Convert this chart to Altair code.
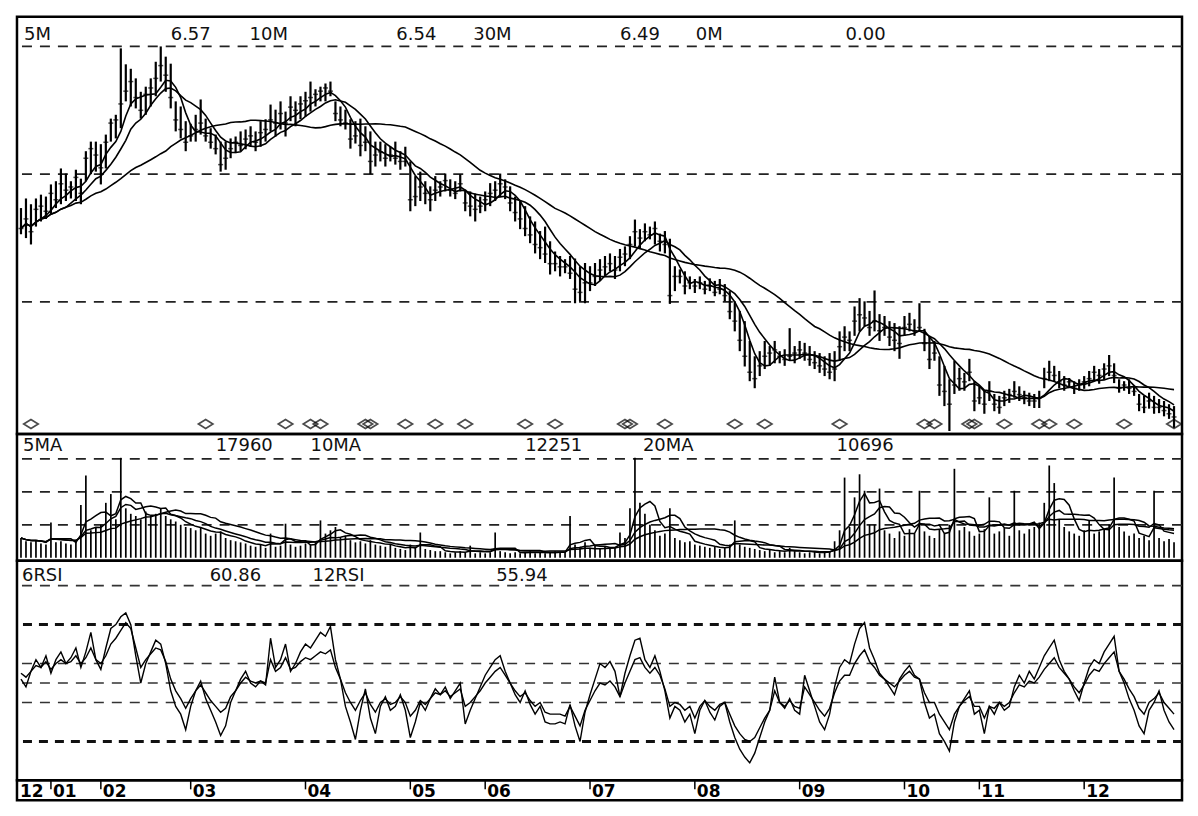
import altair as alt
import pandas as pd

# ---------------- data ----------------
HIGH = [
    9.47, 9.62, 9.53, 9.62, 9.68, 9.65, 9.84, 9.89, 10.09, 10.01,
    9.89, 10.07, 9.93, 10.36, 10.51, 10.51, 10.47, 10.62, 10.87, 10.93,
    11.97, 11.72, 11.65, 11.50, 11.29, 11.37, 11.50, 11.76, 12.00, 11.84,
    11.73, 11.14, 11.06, 10.83, 10.79, 10.93, 11.17, 10.87, 10.72, 10.62,
    10.51, 10.51, 10.56, 10.59, 10.67, 10.70, 10.75, 10.67, 10.83, 10.86,
    11.09, 11.01, 11.14, 10.98, 11.22, 11.14, 11.22, 11.29, 11.45, 11.33,
    11.37, 11.42, 11.45, 11.14, 11.06, 11.01, 10.86, 10.83, 10.87, 10.75,
    10.67, 10.51, 10.51, 10.47, 10.43, 10.51, 10.36, 10.43, 10.20, 9.97,
    10.04, 9.89, 9.81, 9.97, 9.89, 10.01, 9.92, 9.89, 10.00, 9.76,
    9.73, 9.70, 9.65, 9.73, 9.86, 9.89, 10.01, 9.92, 9.81, 9.65,
    9.58, 9.50, 9.34, 9.26, 9.11, 9.18, 8.95, 8.79, 8.72, 8.67,
    8.72, 8.68, 8.56, 8.61, 8.56, 8.61, 8.67, 8.72, 8.76, 8.72,
    8.83, 8.87, 9.03, 9.29, 9.14, 9.23, 9.18, 9.26, 9.07, 9.11,
    8.99, 8.56, 8.51, 8.48, 8.40, 8.36, 8.40, 8.33, 8.37, 8.33,
    8.36, 8.28, 8.17, 8.01, 7.86, 7.70, 7.39, 7.15, 7.23, 7.39,
    7.31, 7.39, 7.23, 7.26, 7.59, 7.31, 7.39, 7.36, 7.31, 7.23,
    7.20, 7.15, 7.20, 7.23, 7.54, 7.62, 7.54, 7.93, 8.06, 8.01,
    7.86, 8.18, 7.81, 7.78, 7.70, 7.67, 7.62, 7.78, 7.83, 7.73,
    7.98, 7.58, 7.47, 7.39, 7.15, 7.00, 6.79, 7.08, 6.97, 6.89,
    7.11, 6.76, 6.68, 6.61, 6.76, 6.56, 6.53, 6.61, 6.64, 6.76,
    6.68, 6.61, 6.58, 6.56, 6.61, 6.97, 7.08, 7.00, 6.92, 6.84,
    6.81, 6.76, 6.79, 6.84, 6.92, 7.00, 6.95, 7.04, 7.17, 7.04,
    6.79, 6.76, 6.79, 6.68, 6.56, 6.53, 6.58, 6.53, 6.48, 6.45,
    6.40, 6.37,
]
LOW = [
    9.06, 9.00, 8.90, 9.18, 9.26, 9.30, 9.37, 9.47, 9.53, 9.58,
    9.62, 9.58, 9.53, 9.89, 10.00, 10.04, 9.84, 10.09, 10.51, 10.56,
    10.72, 11.14, 11.06, 11.03, 10.87, 10.93, 11.06, 11.22, 11.45, 11.29,
    11.03, 10.67, 10.56, 10.36, 10.51, 10.51, 10.62, 10.51, 10.40, 10.31,
    10.04, 10.07, 10.25, 10.33, 10.36, 10.39, 10.43, 10.36, 10.43, 10.51,
    10.67, 10.59, 10.70, 10.59, 10.83, 10.75, 10.86, 10.90, 10.98, 11.06,
    11.14, 11.14, 11.22, 10.83, 10.75, 10.70, 10.40, 10.48, 10.28, 10.36,
    10.00, 10.12, 10.20, 10.12, 10.20, 10.15, 10.07, 10.12, 9.42, 9.50,
    9.58, 9.53, 9.42, 9.58, 9.65, 9.73, 9.65, 9.61, 9.73, 9.42,
    9.34, 9.26, 9.39, 9.42, 9.50, 9.58, 9.65, 9.61, 9.42, 9.26,
    9.14, 9.03, 8.92, 8.76, 8.67, 8.61, 8.43, 8.48, 8.40, 8.45,
    8.36, 7.98, 8.01, 7.98, 8.17, 8.25, 8.33, 8.40, 8.48, 8.36,
    8.48, 8.56, 8.67, 8.87, 8.83, 8.95, 8.98, 8.90, 8.79, 8.76,
    7.97, 8.17, 8.29, 8.12, 8.20, 8.14, 8.20, 8.12, 8.17, 8.09,
    8.12, 8.01, 7.73, 7.54, 7.23, 6.99, 6.76, 6.65, 6.84, 6.95,
    7.00, 7.04, 7.04, 7.00, 7.08, 7.04, 7.11, 7.08, 7.00, 6.95,
    6.89, 6.84, 6.79, 6.76, 7.08, 7.23, 7.23, 7.47, 7.54, 7.62,
    7.47, 7.54, 7.39, 7.47, 7.31, 7.23, 7.11, 7.47, 7.54, 7.47,
    7.54, 7.23, 6.95, 7.08, 6.53, 6.37, 5.98, 6.56, 6.61, 6.61,
    6.76, 6.29, 6.40, 6.25, 6.45, 6.29, 6.25, 6.37, 6.42, 6.50,
    6.45, 6.40, 6.37, 6.34, 6.34, 6.65, 6.76, 6.76, 6.65, 6.61,
    6.65, 6.56, 6.61, 6.64, 6.68, 6.76, 6.72, 6.79, 6.84, 6.73,
    6.58, 6.61, 6.56, 6.53, 6.29, 6.26, 6.33, 6.25, 6.26, 6.21,
    6.17, 6.03,
]
CLOSE = [
    9.15, 9.30, 9.10, 9.45, 9.50, 9.42, 9.70, 9.60, 9.85, 9.75,
    9.80, 9.95, 9.70, 10.25, 10.40, 10.30, 10.10, 10.50, 10.80, 10.85,
    11.10, 11.30, 11.45, 11.20, 11.00, 11.25, 11.35, 11.50, 11.70, 11.55,
    11.20, 10.85, 10.70, 10.50, 10.60, 10.70, 10.80, 10.60, 10.50, 10.40,
    10.15, 10.25, 10.40, 10.50, 10.45, 10.55, 10.60, 10.50, 10.65, 10.70,
    10.85, 10.80, 10.95, 10.80, 11.05, 11.00, 11.10, 11.15, 11.20, 11.25,
    11.30, 11.35, 11.30, 10.95, 10.85, 10.80, 10.55, 10.60, 10.45, 10.50,
    10.20, 10.30, 10.35, 10.25, 10.30, 10.25, 10.20, 10.20, 9.60, 9.65,
    9.80, 9.70, 9.60, 9.75, 9.80, 9.90, 9.75, 9.70, 9.85, 9.55,
    9.50, 9.45, 9.50, 9.60, 9.70, 9.75, 9.85, 9.80, 9.55, 9.40,
    9.30, 9.15, 9.05, 8.90, 8.85, 8.75, 8.60, 8.60, 8.55, 8.55,
    8.45, 8.20, 8.15, 8.30, 8.30, 8.40, 8.50, 8.55, 8.60, 8.50,
    8.70, 8.75, 8.90, 9.10, 9.00, 9.10, 9.05, 9.15, 8.95, 8.90,
    8.10, 8.40, 8.40, 8.25, 8.30, 8.25, 8.30, 8.20, 8.25, 8.15,
    8.20, 8.10, 7.85, 7.70, 7.40, 7.15, 6.90, 6.80, 7.00, 7.15,
    7.20, 7.25, 7.15, 7.10, 7.15, 7.20, 7.25, 7.20, 7.10, 7.05,
    7.00, 6.95, 6.90, 6.95, 7.30, 7.45, 7.40, 7.70, 7.80, 7.75,
    7.60, 7.70, 7.55, 7.60, 7.45, 7.40, 7.35, 7.60, 7.65, 7.55,
    7.60, 7.35, 7.10, 7.20, 6.70, 6.60, 6.40, 6.70, 6.80, 6.75,
    6.90, 6.45, 6.50, 6.40, 6.60, 6.40, 6.35, 6.50, 6.55, 6.60,
    6.55, 6.50, 6.45, 6.45, 6.50, 6.80, 6.90, 6.85, 6.75, 6.70,
    6.75, 6.65, 6.70, 6.75, 6.80, 6.90, 6.85, 6.95, 7.00, 6.85,
    6.65, 6.70, 6.65, 6.60, 6.40, 6.35, 6.45, 6.35, 6.35, 6.30,
    6.25, 6.20,
]
VOLUME_K = [
    18, 15, 14, 16, 13, 12, 32, 14, 15, 13,
    12, 16, 48, 75, 25, 28, 30, 50, 58, 35,
    91, 45, 40, 38, 35, 42, 38, 40, 45, 38,
    35, 33, 30, 28, 27, 25, 28, 22, 20, 22,
    24, 18, 16, 15, 14, 13, 11, 10, 12, 9,
    22, 10, 11, 31, 12, 10, 11, 13, 12, 14,
    34, 22, 25, 28, 18, 20, 16, 14, 15, 13,
    16, 12, 11, 10, 12, 9, 8, 7, 12, 9,
    23, 8, 7, 6, 6, 5, 4, 5, 6, 5,
    11, 4, 5, 4, 5, 23, 6, 5, 4, 5,
    4, 5, 6, 4, 5, 4, 5, 6, 5, 5,
    38, 12, 10, 14, 9, 11, 8, 10, 9, 9,
    23, 18, 45, 91, 50, 40, 30, 25, 20, 22,
    45, 18, 16, 14, 15, 12, 11, 10, 9, 10,
    8, 9, 12, 34, 12, 10, 9, 8, 7, 6,
    8, 5, 6, 5, 9, 6, 5, 4, 5, 6,
    4, 5, 6, 15, 25, 73, 28, 55, 76, 61,
    30, 30, 63, 25, 22, 18, 24, 20, 26, 22,
    61, 24, 20, 18, 26, 22, 30, 81, 25, 28,
    24, 20, 22, 26, 55, 22, 24, 27, 20, 61,
    25, 22, 26, 28, 32, 50, 84, 68, 35, 28,
    24, 22, 20, 25, 34, 22, 24, 26, 30, 73,
    28, 24, 20, 22, 18, 20, 16, 61, 18, 15,
    17, 14,
]
RSI6 = [
    52, 48, 56, 62, 58, 64, 55, 62, 66, 60,
    63, 68, 58, 66, 76, 62, 57, 68, 78, 80,
    84, 86, 80, 64, 50, 60, 66, 72, 70, 60,
    46, 38, 34, 26, 38, 46, 51, 42, 36, 30,
    23, 28, 40, 46, 52, 56, 50, 48, 51, 49,
    73, 58, 62, 70, 56, 60, 66, 70, 68, 72,
    76, 74, 79, 62, 52, 38, 30, 21, 36, 47,
    32, 24, 38, 43, 36, 38, 44, 36, 22, 30,
    40, 36, 42, 47, 44, 48, 42, 46, 50, 29,
    36, 42, 48, 54, 58, 62, 64, 56, 50, 44,
    40, 46, 39, 34, 38, 30, 29, 29, 30, 29,
    39, 28, 20, 35, 44, 52, 60, 58, 61, 56,
    43, 55, 64, 72, 73, 62, 58, 64, 56, 46,
    32, 38, 36, 30, 34, 24, 36, 41, 35, 31,
    38, 40, 30, 22, 16, 12, 9, 14, 22, 30,
    36, 53, 40, 37, 42, 36, 34, 54, 46, 38,
    30, 26, 34, 48, 58, 62, 60, 70, 78, 81,
    68, 62, 55, 52, 48, 44, 52, 56, 59, 54,
    52, 40, 32, 34, 24, 20, 15, 30, 38, 42,
    46, 34, 36, 24, 38, 34, 40, 36, 38, 48,
    54, 50, 56, 52, 58, 64, 68, 72, 62, 56,
    52, 46, 41, 50, 58, 62, 60, 66, 70, 74,
    56, 50, 42, 36, 28, 24, 36, 40, 46, 36,
    30, 26,
]
RSI12 = [
    55, 53, 56, 59, 58, 61, 57, 60, 62, 60,
    61, 64, 60, 63, 68, 62, 60, 64, 70, 73,
    77, 81, 78, 68, 58, 62, 65, 68, 67, 61,
    52, 46, 42, 37, 42, 46, 49, 45, 41, 38,
    35, 37, 43, 46, 50, 53, 51, 50, 51, 50,
    62, 56, 58, 63, 57, 58, 61, 63, 62, 64,
    66, 65, 67, 58, 52, 45, 40, 36, 41, 45,
    39, 35, 40, 42, 39, 40, 43, 40, 33, 36,
    41, 39, 42, 45, 44, 46, 43, 45, 47, 38,
    40, 43, 46, 50, 53, 56, 58, 54, 50, 46,
    43, 45, 41, 38, 40, 35, 34, 34, 34, 33,
    38, 33, 28, 36, 41, 46, 50, 49, 51, 48,
    43, 50, 56, 62, 63, 58, 55, 58, 54, 47,
    38, 40, 39, 36, 38, 32, 38, 41, 38, 36,
    39, 40, 34, 28, 24, 21, 20, 22, 27, 32,
    36, 46, 40, 38, 41, 38, 37, 48, 44, 40,
    36, 33, 37, 45, 51, 54, 54, 60, 64, 67,
    61, 58, 54, 52, 50, 48, 51, 54, 56, 53,
    52, 45, 40, 40, 34, 30, 26, 34, 38, 41,
    43, 38, 38, 32, 38, 37, 40, 38, 40, 45,
    49, 48, 51, 50, 53, 57, 60, 63, 58, 55,
    52, 48, 45, 49, 54, 57, 56, 60, 63, 66,
    56, 52, 47, 43, 37, 34, 40, 42, 45, 40,
    37, 34,
]
SIGNALS = [2, 37, 53, 58, 60, 69, 70, 77, 83, 89, 101, 107, 121, 122, 129,
           143, 149, 164, 181, 183, 190, 191, 197, 204, 206, 211, 221, 231]
MONTH_START = [6, 16, 34, 57, 78, 93, 114, 135, 156, 177, 192, 213]
MONTH_LABELS = ["01", "02", "03", "04", "05", "06", "07", "08", "09", "10", "11", "12"]
FIRST_LABEL = "12"
PRICE_GRID = [8, 10, 12]
VOL_GRID = [30, 60, 90]
RSI_GRID = [100, 60, 50, 40]
RSI_GRID_BOLD = [80, 20]
PRICE_HEADER = ["5M", "6.57", "10M", "6.54", "30M", "6.49", "0M", "0.00"]
VOL_HEADER = ["5MA", "17960", "10MA", "12251", "20MA", "10696"]
RSI_HEADER = ["6RSI", "60.86", "12RSI", "55.94"]

# ---------------- layout ----------------
W = 1167
H_PRICE, H_VOL, H_RSI, H_AX = 418, 127, 220, 20
FONT = "DejaVu Sans"

n = min(len(HIGH), len(LOW), len(CLOSE), len(VOLUME_K), len(RSI6), len(RSI12))
df = pd.DataFrame({
    "i": list(range(n)),
    "high": HIGH[:n], "low": LOW[:n], "close": CLOSE[:n],
    "vol": VOLUME_K[:n], "rsi6": RSI6[:n], "rsi12": RSI12[:n],
})

XS = alt.Scale(domain=[-0.8, 232.6], nice=False, zero=False)
X = alt.X("i:Q", scale=XS, axis=None)


def header(labels, xs, y):
    layers = []
    for lab, xp in zip(labels, xs):
        layers.append(
            alt.Chart(pd.DataFrame({"t": [lab]}))
            .mark_text(font=FONT, fontSize=18, align="left", baseline="middle", color="#111")
            .encode(text="t:N", x=alt.value(xp), y=alt.value(y))
        )
    return layers


dash = [10, 8]

# ---- price panel ----
PS = alt.Scale(domain=[5.934, 12.466], nice=False, zero=False)
base = alt.Chart(df)
p_grid = alt.Chart(pd.DataFrame({"g": PRICE_GRID})).mark_rule(
    strokeDash=dash, strokeWidth=1.8, color="#222").encode(y=alt.Y("g:Q", scale=PS, axis=None))
p_bars = base.mark_rule(strokeWidth=2.2, color="black").encode(
    x=X, y=alt.Y("low:Q", scale=PS, axis=None), y2="high:Q")
p_close = base.mark_tick(orient="horizontal", size=5, thickness=1.5, color="black").encode(
    x=X, y=alt.Y("close:Q", scale=PS, axis=None))
p_ma = (
    base.transform_window(ma5="mean(close)", frame=[-4, 0], sort=[{"field": "i"}])
    .transform_window(ma10="mean(close)", frame=[-9, 0], sort=[{"field": "i"}])
    .transform_window(ma30="mean(close)", frame=[-29, 0], sort=[{"field": "i"}])
    .transform_fold(["ma5", "ma10", "ma30"], as_=["k", "v"])
    .mark_line(color="black", strokeWidth=1.6)
    .encode(x=X, y=alt.Y("v:Q", scale=PS, axis=None), detail="k:N")
)
p_sig = alt.Chart(pd.DataFrame({"i": SIGNALS})).mark_point(
    shape="M-1,0L0,-0.62L1,0L0,0.62Z", size=210, filled=False, strokeWidth=1.7, color="black"
).encode(x=X, y=alt.value(H_PRICE - 10))
price = alt.layer(
    p_grid, p_bars, p_close, p_ma, p_sig,
    *header(PRICE_HEADER, [7, 154, 233, 380, 457, 604, 680, 830], 18)
).properties(width=W, height=H_PRICE)

# ---- volume panel ----
VS = alt.Scale(domain=[-2.73, 112.73], nice=False, zero=False)
v_grid = alt.Chart(pd.DataFrame({"g": VOL_GRID})).mark_rule(
    strokeDash=dash, strokeWidth=1.8, color="#222").encode(y=alt.Y("g:Q", scale=VS, axis=None))
v_bars = base.mark_rule(strokeWidth=1.7, color="black").encode(
    x=X, y=alt.Y("vol:Q", scale=VS, axis=None), y2=alt.datum(0))
v_ma = (
    base.transform_window(m5="mean(vol)", frame=[-4, 0], sort=[{"field": "i"}])
    .transform_window(m10="mean(vol)", frame=[-9, 0], sort=[{"field": "i"}])
    .transform_window(m20="mean(vol)", frame=[-19, 0], sort=[{"field": "i"}])
    .transform_fold(["m5", "m10", "m20"], as_=["k", "v"])
    .mark_line(color="black", strokeWidth=1.5)
    .encode(x=X, y=alt.Y("v:Q", scale=VS, axis=None), detail="k:N")
)
vol = alt.layer(
    v_grid, v_bars, v_ma,
    *header(VOL_HEADER, [6, 199, 294, 509, 627, 821], 12)
).properties(width=W, height=H_VOL)

# ---- RSI panel ----
RS = alt.Scale(domain=[0, 112.8], nice=False, zero=False)
r_grid = alt.Chart(pd.DataFrame({"g": RSI_GRID})).mark_rule(
    strokeDash=dash, strokeWidth=1.6, color="#333").encode(y=alt.Y("g:Q", scale=RS, axis=None))
r_grid_b = alt.Chart(pd.DataFrame({"g": RSI_GRID_BOLD})).mark_rule(
    strokeDash=[9, 7], strokeWidth=3, color="#111").encode(y=alt.Y("g:Q", scale=RS, axis=None))
r_lines = (
    base.transform_fold(["rsi6", "rsi12"], as_=["k", "v"])
    .mark_line(color="black", strokeWidth=1.4)
    .encode(x=X, y=alt.Y("v:Q", scale=RS, axis=None), detail="k:N")
)
rsi = alt.layer(
    r_grid, r_grid_b, r_lines,
    *header(RSI_HEADER, [5, 193, 296, 480], 15)
).properties(width=W, height=H_RSI)

# ---- month strip ----
mdf = pd.DataFrame({"i": MONTH_START, "m": MONTH_LABELS})
ax_ticks = alt.Chart(mdf).mark_rule(color="black", strokeWidth=1.5).encode(
    x=X, y=alt.value(0), y2=alt.value(9))
ax_text = alt.Chart(mdf).mark_text(
    font=FONT, fontSize=17, fontWeight="bold", align="left", baseline="middle", dx=2, color="black"
).encode(x=X, y=alt.value(12), text="m:N")
ax_first = alt.Chart(pd.DataFrame({"m": [FIRST_LABEL]})).mark_text(
    font=FONT, fontSize=17, fontWeight="bold", align="left", baseline="middle", color="black"
).encode(x=alt.value(3), y=alt.value(12), text="m:N")
strip = alt.layer(ax_ticks, ax_text, ax_first).properties(width=W, height=H_AX)

chart = (
    alt.vconcat(price, vol, rsi, strip, spacing=0, bounds="flush")
    .properties(padding={"left": 6, "top": 6, "right": 4, "bottom": 4}, background="white")
    .configure_view(stroke="black", strokeWidth=2.5)
)

chart.save("out.html", embed_options={"renderer": "svg", "actions": False})
